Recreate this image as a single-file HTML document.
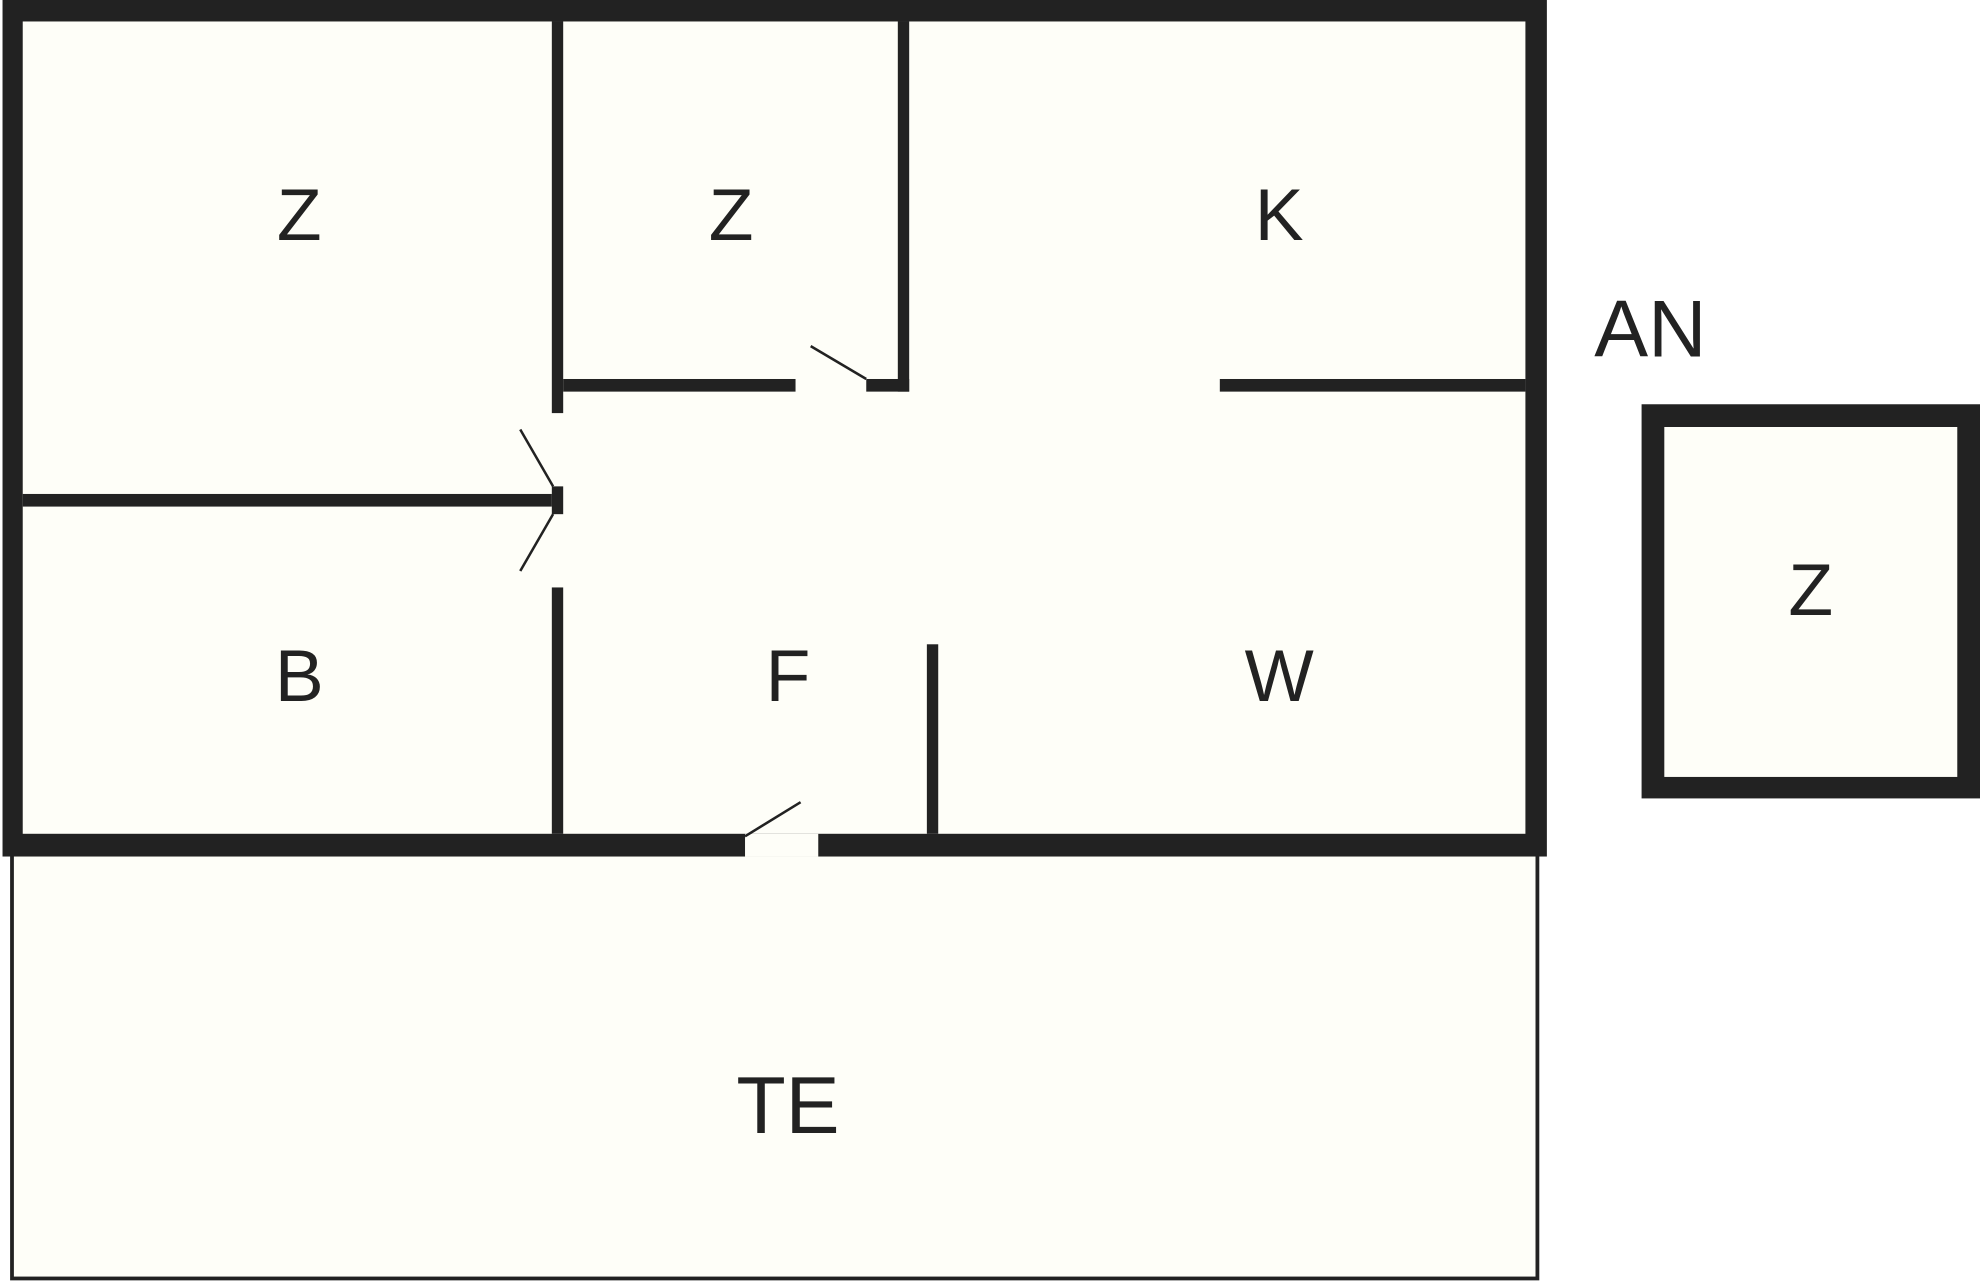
<!DOCTYPE html>
<html><head><style>html,body{margin:0;padding:0;background:#fff;}svg{display:block;}</style></head>
<body>
<svg width="1980" height="1281" viewBox="0 0 1568 1014" preserveAspectRatio="none" xmlns="http://www.w3.org/2000/svg">
<rect width="1568" height="1014" fill="#fff"/>
<!-- terrace -->
<rect x="9.5" y="670" width="1208" height="342" fill="#fefef8" stroke="#222" stroke-width="3"/>
<!-- house -->
<rect x="2" y="0" width="1223" height="678" fill="#222"/>
<rect x="18" y="17" width="1190" height="643" fill="#fefef8"/>
<g fill="#222">
<rect x="437" y="17" width="9" height="310"/>
<rect x="437" y="385" width="9" height="22"/>
<rect x="437" y="465" width="9" height="195"/>
<rect x="18" y="391" width="419" height="10"/>
<rect x="446" y="300" width="184" height="10"/>
<rect x="686" y="300" width="34" height="10"/>
<rect x="711" y="17" width="9" height="293"/>
<rect x="966" y="300" width="242" height="10"/>
<rect x="734" y="510" width="9" height="150"/>
</g>
<!-- door gap in bottom wall -->
<rect x="590" y="660" width="58" height="18" fill="#fefef8"/>
<g stroke="#222" stroke-width="2">
<line x1="642" y1="274" x2="686" y2="300"/>
<line x1="412" y1="340" x2="438" y2="385"/>
<line x1="412" y1="452" x2="438" y2="407"/>
<line x1="590" y1="662" x2="634" y2="635"/>
</g>
<!-- shed -->
<rect x="1300" y="320" width="268" height="312" fill="#222"/>
<rect x="1318" y="338" width="232" height="277" fill="#fefef8"/>
<g font-family="Liberation Sans, sans-serif" fill="#222" text-anchor="middle" font-size="58">
<text x="237" y="190">Z</text>
<text x="579" y="190">Z</text>
<text x="1013" y="190">K</text>
<text x="1307" y="282" font-size="64">AN</text>
<text x="237" y="555">B</text>
<text x="624" y="555">F</text>
<text x="1013" y="555">W</text>
<text x="624" y="897" font-size="64">TE</text>
<text x="1434" y="487">Z</text>
</g>
</svg>
</body></html>
